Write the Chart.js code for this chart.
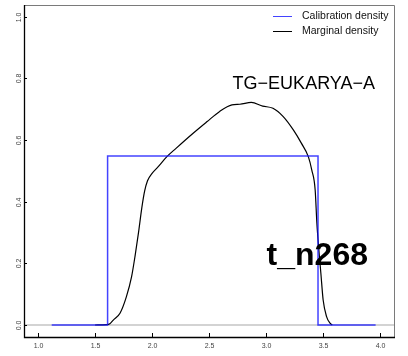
<!DOCTYPE html>
<html>
<head>
<meta charset="utf-8">
<script src="https://cdn.jsdelivr.net/npm/chart.js@4"></script>
<style>
  html, body { margin: 0; padding: 0; background: #fff; }
  #wrap { width: 408px; height: 356px; }
</style>
</head>
<body>
<div id="wrap"><canvas id="densityChart" width="408" height="356"></canvas></div>
<script>
// calibration prior (uniform box) and marginal posterior density
const calibX = [1.12, 1.61, 1.61, 3.455, 3.455, 3.96];
const calibY = [0, 0, 0.548, 0.548, 0, 0];

const margX = [1.50, 1.60, 1.63, 1.66, 1.72, 1.775, 1.82, 1.85, 1.88, 1.91, 1.935, 1.96, 2.00, 2.05, 2.13,
  2.21, 2.36, 2.48, 2.59, 2.70, 2.77, 2.87, 2.97, 3.06, 3.15, 3.24, 3.31, 3.37, 3.40, 3.43,
  3.445, 3.46, 3.48, 3.50, 3.53, 3.56, 3.58];
const margY = [0, 0.001, 0.004, 0.016, 0.039, 0.092, 0.156, 0.222, 0.297, 0.380, 0.435, 0.468, 0.492, 0.512, 0.546,
  0.573, 0.622, 0.659, 0.692, 0.714, 0.716, 0.722, 0.710, 0.703, 0.676, 0.632, 0.589, 0.546, 0.503, 0.438,
  0.330, 0.254, 0.168, 0.081, 0.027, 0.006, 0];

const xTicks = [1.0, 1.5, 2.0, 2.5, 3.0, 3.5, 4.0];
const yTicks = [0, 0.2, 0.4, 0.6, 0.8, 1.0];
const seriesNames = ['Calibration density', 'Marginal density'];
const nodeLabel = 'TG\u2212EUKARYA\u2212A';
const nodeId = 't_n268';

const FONT = '"Liberation Sans", Arial, Helvetica, sans-serif';

const toPoints = (xs, ys) => xs.map((x, i) => ({ x: x, y: ys[i] }));

// zero line, box, ticks, legend and annotations
const frame = {
  id: 'frame',
  beforeDatasetsDraw(chart) {
    const { ctx, chartArea: a, scales: { y } } = chart;
    const y0 = y.getPixelForValue(0);
    ctx.save();
    ctx.strokeStyle = '#d3d3d3';
    ctx.lineWidth = 2;
    ctx.beginPath();
    ctx.moveTo(a.left, y0);
    ctx.lineTo(a.right, y0);
    ctx.stroke();
    ctx.restore();
  },
  afterDraw(chart) {
    const { ctx, chartArea: a, scales: { x, y } } = chart;
    ctx.save();

    // box: grey top/right, black axes
    ctx.lineWidth = 1;
    ctx.strokeStyle = '#7a7a7a';
    ctx.beginPath();
    ctx.moveTo(a.left, a.top + 0.5);
    ctx.lineTo(a.right - 0.5, a.top + 0.5);
    ctx.lineTo(a.right - 0.5, a.bottom);
    ctx.stroke();
    ctx.strokeStyle = '#000';
    ctx.lineWidth = 1.3;
    ctx.beginPath();
    ctx.moveTo(a.left + 0.5, a.top);
    ctx.lineTo(a.left + 0.5, a.bottom + 0.5);
    ctx.lineTo(a.right, a.bottom + 0.5);
    ctx.stroke();

    // inward ticks + labels
    ctx.lineWidth = 1;
    ctx.fillStyle = '#444';
    ctx.font = '7px ' + FONT;
    ctx.textAlign = 'center';
    ctx.textBaseline = 'middle';
    x.ticks.forEach(t => {
      const px = Math.round(x.getPixelForValue(t.value)) + 0.5;
      ctx.beginPath();
      ctx.moveTo(px, a.bottom);
      ctx.lineTo(px, a.bottom - 4);
      ctx.stroke();
      ctx.fillText(t.value.toFixed(1), px, 346);
    });
    y.ticks.forEach(t => {
      const py = Math.round(y.getPixelForValue(t.value)) + 0.5;
      ctx.beginPath();
      ctx.moveTo(a.left, py);
      ctx.lineTo(a.left + 3, py);
      ctx.stroke();
      ctx.save();
      ctx.translate(19.5, py);
      ctx.rotate(-Math.PI / 2);
      ctx.fillText(t.value.toFixed(1), 0, 0);
      ctx.restore();
    });

    // legend
    ctx.font = '10.5px ' + FONT;
    ctx.textAlign = 'left';
    ctx.fillStyle = '#111';
    chart.data.datasets.forEach((ds, i) => {
      const ly = 16 + i * 15;
      ctx.strokeStyle = ds.borderColor;
      ctx.lineWidth = 1;
      ctx.beginPath();
      ctx.moveTo(273, ly + 0.5);
      ctx.lineTo(292, ly + 0.5);
      ctx.stroke();
      ctx.fillText(ds.label, 302, ly + 0.5);
    });

    // node annotations
    ctx.fillStyle = '#000';
    ctx.textAlign = 'right';
    ctx.textBaseline = 'alphabetic';
    ctx.font = '18px ' + FONT;
    ctx.fillText(nodeLabel, 375, 89);
    ctx.font = 'bold 32px ' + FONT;
    ctx.fillText(nodeId, 368, 265);

    ctx.restore();
  }
};

new Chart(document.getElementById('densityChart').getContext('2d'), {
  type: 'scatter',
  data: {
    datasets: [{
      label: seriesNames[0],
      data: toPoints(calibX, calibY),
      showLine: true,
      borderColor: 'rgba(20, 20, 255, 0.8)',
      borderWidth: 1.5,
      pointRadius: 0,
      tension: 0
    }, {
      label: seriesNames[1],
      data: toPoints(margX, margY),
      showLine: true,
      borderColor: '#000',
      borderWidth: 1.2,
      pointRadius: 0,
      cubicInterpolationMode: 'monotone'
    }]
  },
  options: {
    responsive: false,
    animation: false,
    devicePixelRatio: 1,
    layout: { padding: { top: 5, right: 13, left: 0, bottom: 0 } },
    plugins: {
      legend: { display: false },
      tooltip: { enabled: false }
    },
    scales: {
      x: {
        type: 'linear',
        min: 0.877,
        max: 4.13,
        grid: { display: false },
        border: { display: false },
        ticks: { display: false },
        afterBuildTicks: s => { s.ticks = xTicks.map(v => ({ value: v })); },
        afterFit: s => { s.height = 19; }
      },
      y: {
        type: 'linear',
        min: -0.039,
        max: 1.038,
        grid: { display: false },
        border: { display: false },
        ticks: { display: false },
        afterBuildTicks: s => { s.ticks = yTicks.map(v => ({ value: v })); },
        afterFit: s => { s.width = 24; }
      }
    }
  },
  plugins: [frame]
});
</script>
</body>
</html>
